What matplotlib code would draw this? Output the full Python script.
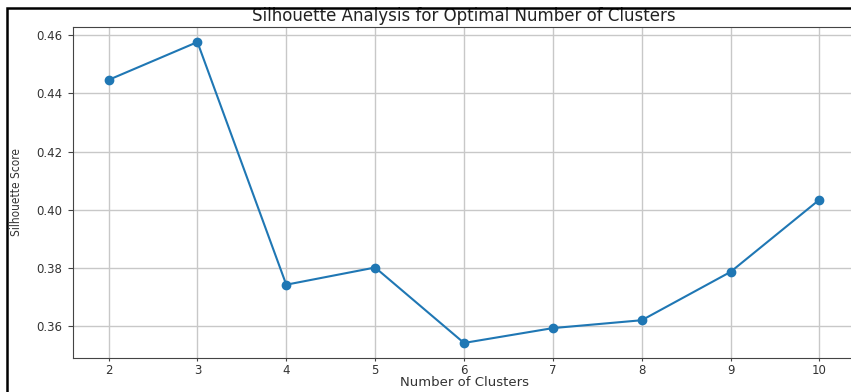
import matplotlib
matplotlib.use("Agg")
import matplotlib.pyplot as plt
from matplotlib.patches import Rectangle

clusters = [2, 3, 4, 5, 6, 7, 8, 9, 10]
scores = [0.4446, 0.4576, 0.3743, 0.3802, 0.3543, 0.3594, 0.3621, 0.3787, 0.4035]
yticks = [0.36, 0.38, 0.40, 0.42, 0.44, 0.46]

W, H = 851, 392
fig = plt.figure(figsize=(W / 100, H / 100), dpi=100)
ax = fig.add_axes([73 / W, 1 - 358 / H, (855 - 73) / W, (358 - 27) / H])

ax.plot(clusters, scores, marker="o", color="#1f77b4", linewidth=1.5, markersize=6)
ax.set_xticks(clusters)
ax.set_yticks(yticks)
ax.set_yticklabels([f"{v:.2f}" for v in yticks])
ax.grid(True, color="#c8c8c8", linewidth=1)
ax.tick_params(axis="x", labelsize=8.5, length=2.5, pad=2, colors="#444444", labelcolor="#333333")
ax.tick_params(axis="y", labelsize=8.5, length=3.5, pad=4, colors="#444444", labelcolor="#333333")
for s in ax.spines.values():
    s.set_color("#444444")

ax.set_title("Silhouette Analysis for Optimal Number of Clusters", fontsize=12, pad=4, color="#222222")
ax.set_xlabel("Number of Clusters", fontsize=9.5, color="#333333")
ax.xaxis.set_label_coords(0.5, -(376 - 358) / 331)
ax.set_ylabel("Silhouette Score", fontsize=8.5, family="DejaVu Sans", stretch="condensed",
              color="#333333")
ax.yaxis.set_label_coords((23 - 73) / 782, 0.5)

# screenshot frame
fig.patches.append(Rectangle((7 / W, -0.5), 2.0, 1 - 8 / H + 0.5, transform=fig.transFigure,
                             fill=False, edgecolor="black", linewidth=1.8, zorder=10))

fig.savefig("out.png", dpi=100)
